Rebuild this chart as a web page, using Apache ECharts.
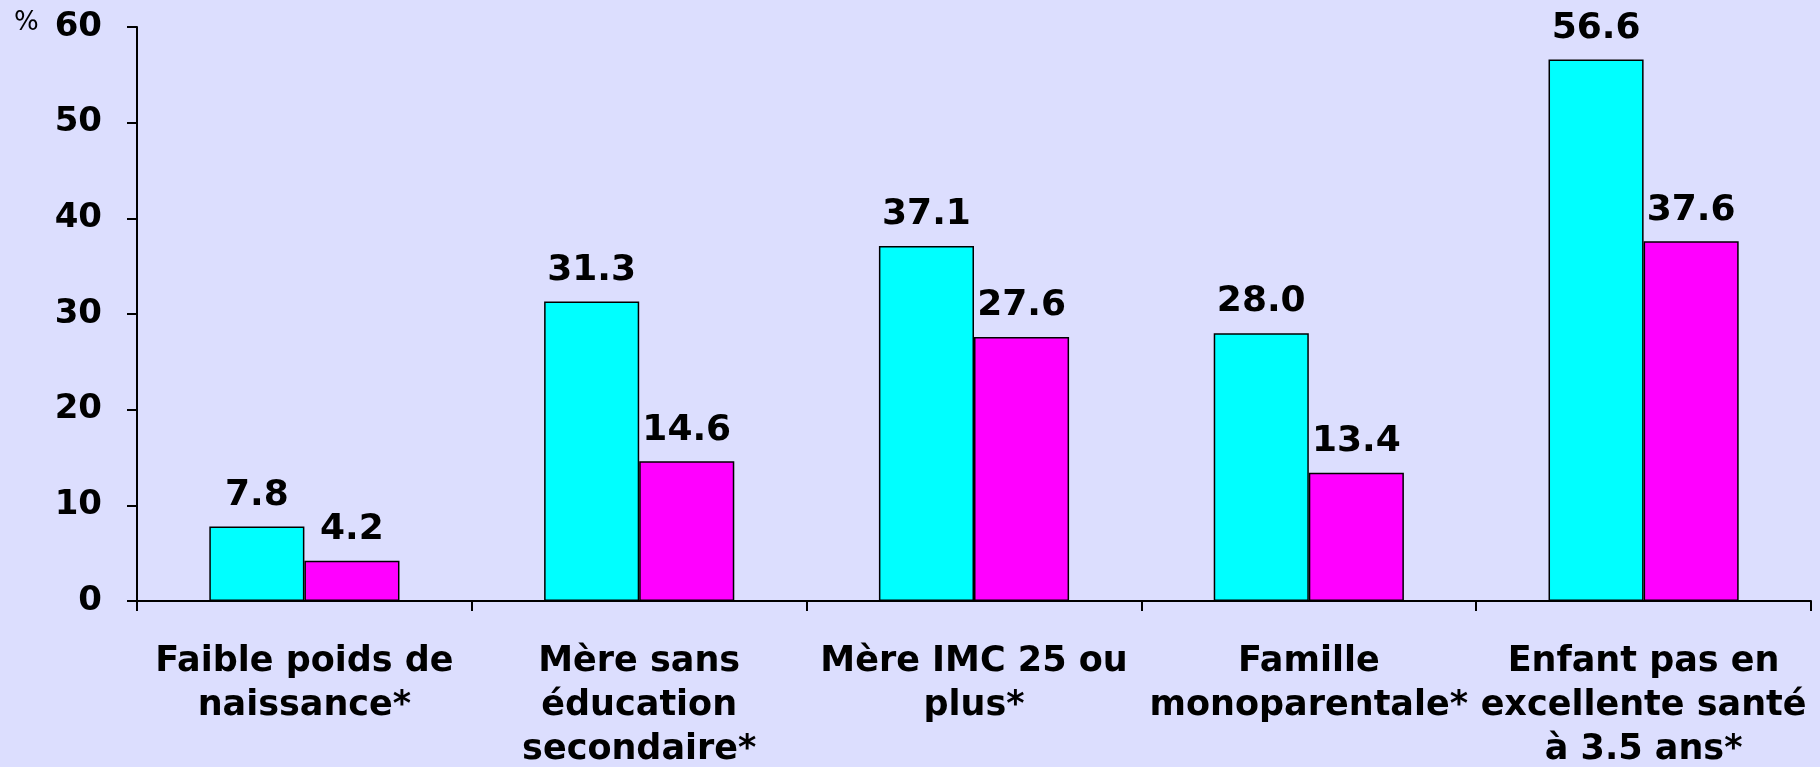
<!DOCTYPE html>
<html>
<head>
<meta charset="utf-8">
<script src="https://cdn.jsdelivr.net/npm/echarts@6/dist/echarts.min.js"></script>
<style>
html, body { margin: 0; padding: 0; background: #dcdefe; }
#chart { width: 1820px; height: 767px; }
</style>
</head>
<body>
<div id="chart"></div>
<script>
const categories = [
    'Faible poids de\nnaissance*',
    'Mère sans\néducation\nsecondaire*',
    'Mère IMC 25 ou\nplus*',
    'Famille\nmonoparentale*',
    'Enfant pas en\nexcellente santé\nà 3.5 ans*'
]
const seriesA = [7.8, 31.3, 37.1, 28.0, 56.6]
const seriesB = [4.2, 14.6, 27.6, 13.4, 37.6]
const yTicks = { min: 0, max: 60, interval: 10 }

const font = 'DejaVu Sans'
const myChart = echarts.init(document.getElementById('chart'))

const labelStyle = {
    show: true,
    position: 'top',
    distance: 13,
    color: '#000',
    fontFamily: font,
    fontWeight: 'bold',
    fontSize: 36,
    formatter: p => p.value.toFixed(1)
}

const option = {
    backgroundColor: '#dcdefe',
    animation: false,
    graphic: [{
        type: 'text',
        left: 14,
        top: 10,
        style: { text: '%', fontFamily: font, fontSize: 26, fill: '#000' }
    }],
    grid: {
        left: 137,
        right: 9,
        top: 27,
        bottom: 166,
        outerBoundsMode: 'none'
    },
    xAxis: {
        type: 'category',
        data: categories,
        axisLine: { lineStyle: { color: '#000', width: 2 } },
        axisTick: { show: true, length: 10, lineStyle: { color: '#000', width: 2 } },
        axisLabel: {
            interval: 0,
            margin: 39,
            color: '#000',
            fontFamily: font,
            fontWeight: 'bold',
            fontSize: 35,
            lineHeight: 44
        }
    },
    yAxis: {
        type: 'value',
        min: yTicks.min,
        max: yTicks.max,
        interval: yTicks.interval,
        axisLine: { show: true, lineStyle: { color: '#000', width: 2 } },
        axisTick: { show: true, length: 10, lineStyle: { color: '#000', width: 2 } },
        axisLabel: {
            margin: 35,
            color: '#000',
            fontFamily: font,
            fontWeight: 'bold',
            fontSize: 34
        },
        splitLine: { show: false }
    },
    series: [{
        type: 'bar',
        data: seriesA,
        barWidth: '28.4%',
        barGap: '0%',
        itemStyle: { color: '#00ffff', borderColor: '#000', borderWidth: 1.5 },
        label: labelStyle
    }, {
        type: 'bar',
        data: seriesB,
        barWidth: '28.4%',
        barGap: '0%',
        itemStyle: { color: '#ff00ff', borderColor: '#000', borderWidth: 1.5 },
        label: labelStyle
    }]
}
myChart.setOption(option)
</script>
</body>
</html>
